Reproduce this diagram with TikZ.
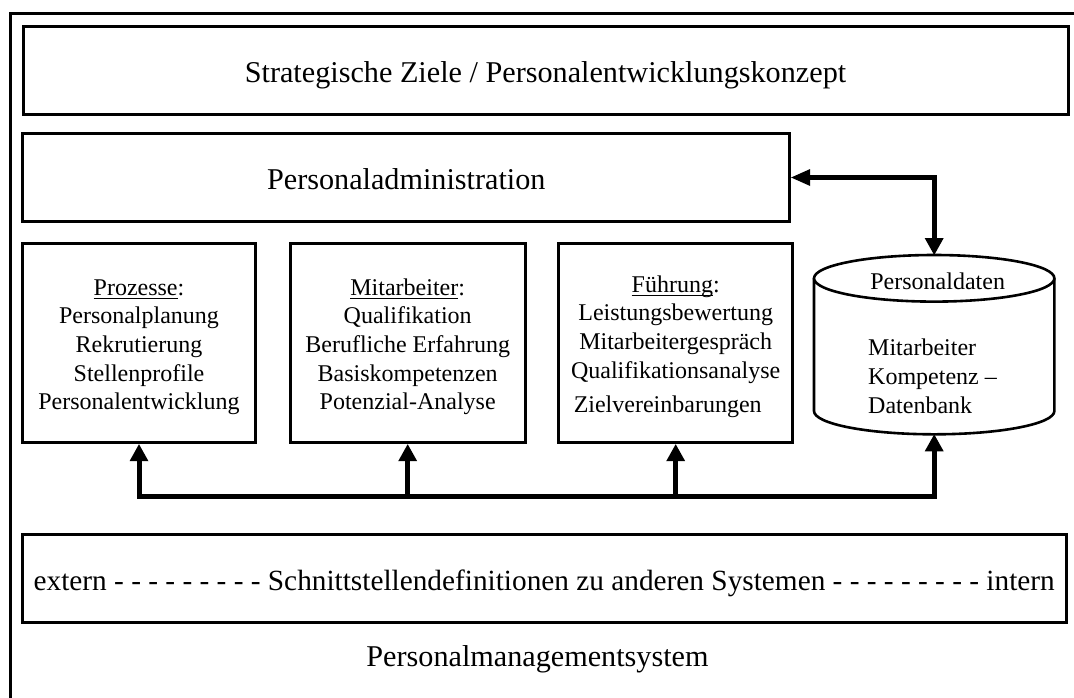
\documentclass[tikz,border=0pt]{standalone}
\usepackage{fontspec}
\setmainfont{Liberation Serif}
\usetikzlibrary{arrows.meta}
% underline a word with a thin rule a little below the baseline
\newcommand\ulword[1]{\setbox0\hbox{#1}\rlap{\rule[-3.6pt]{\wd0}{1.1pt}}\box0}
% invisible strut that lowers the first line of a text block
\newcommand\topstrut{\rule{0pt}{24pt}}
\begin{document}
\begin{tikzpicture}[x=1pt,y=-1pt,
  box/.style={draw, line width=3pt, inner sep=0pt, align=center},
  bigtext/.style={font=\fontsize{30.2}{36}\selectfont},
  longtext/.style={font=\fontsize{29.3}{35}\selectfont},
  boxtext/.style={font=\fontsize{24}{28.7}\selectfont},
  oneline/.style={text height=24pt, text depth=0pt},
  link/.style={line width=5pt},
  cylline/.style={line width=2.6pt},
  uphead/.style={-{Triangle[length=17pt,width=19pt,line width=0pt]}},
]
\fill[white] (0,0) rectangle (1074,697);
\clip (0,0) rectangle (1074,697);
\useasboundingbox (0,0) rectangle (1074,697);

% outer frame of the whole system
\node[draw, line width=2.8pt, anchor=north west, minimum width=1090pt,
      minimum height=710pt, inner sep=0pt] (system) at (8.7,11.7) {};
\node[bigtext, anchor=base] (systemname) at (537.5,666.7) {Personalmanagementsystem};

% layers
\node[box, bigtext, oneline, minimum width=1045pt, minimum height=87.6pt]
  (ziele) at (545.5,70.5) {Strategische Ziele / Personalentwicklungskonzept};
\node[box, bigtext, oneline, minimum width=766.7pt, minimum height=88.4pt]
  (verw) at (406.3,177.5) {Personaladministration};

\node[box, boxtext, minimum width=233pt, minimum height=199.4pt]
  (proz) at (139,343) {\topstrut\ulword{Prozesse}:\\Personalplanung\\Rekrutierung\\Stellenprofile\\Personalentwicklung};
\node[box, boxtext, minimum width=234.7pt, minimum height=199.4pt]
  (mita) at (407.7,343) {\topstrut\ulword{Mitarbeiter}:\\Qualifikation\\Berufliche Erfahrung\\Basiskompetenzen\\Potenzial-Analyse};
\node[box, boxtext, minimum width=234pt, minimum height=199.4pt]
  (fuehr) at (675.7,343) {\topstrut\ulword{Führung}:\\Leistungsbewertung\\Mitarbeitergespräch\\Qualifikationsanalyse\\[6pt]Zielvereinbarungen\hspace*{16pt}};

% database cylinder
\node[minimum width=240.4pt, minimum height=179.3pt, inner sep=0pt, outer sep=0pt]
  (db) at (934.2,344.7) {};
\coordinate (dbtop) at (934.2,278.3);
\coordinate (dbbot) at (934.2,411);
\fill[white] ([xshift=-120.2pt]dbtop) -- ([xshift=-120.2pt]dbbot)
  arc[start angle=180, end angle=360, x radius=120.2pt, y radius=23.3pt]
  -- ([xshift=120.2pt]dbtop) -- cycle;
\draw[cylline] ([xshift=-120.2pt]dbtop) -- ([xshift=-120.2pt]dbbot)
  arc[start angle=180, end angle=360, x radius=120.2pt, y radius=23.3pt]
  -- ([xshift=120.2pt]dbtop);
\draw[cylline, fill=white] (dbtop) ellipse[x radius=120.2pt, y radius=23.3pt];
\node[boxtext, anchor=base] (dbname) at (937.7,289) {Personaldaten};
\node[boxtext, align=left, anchor=south west, inner sep=0pt, text depth=0pt]
  (dbcontent) at (868,413.3) {Mitarbeiter\\Kompetenz --\\Datenbank};

% interfaces
\node[box, longtext, oneline, minimum width=1043.6pt, minimum height=88pt]
  (schnitt) at (544.2,578.3) {extern - - - - - - - - - Schnittstellendefinitionen zu anderen Systemen - - - - - - - - - intern};

% connectors
\coordinate (bus) at (0,496.5);
\draw[link, {Triangle[length=19pt,width=17pt,line width=0pt]}-{Triangle[length=17pt,width=19pt,line width=0pt]}]
  (verw.east) -- (verw.east -| db.north) -- (db.north);
\draw[link, {Triangle[length=17pt,width=19pt,line width=0pt]}-{Triangle[length=17pt,width=19pt,line width=0pt]}]
  (proz.south) -- (proz.south |- bus) -- (db.south |- bus) -- (db.south);
\draw[link, uphead] (mita.south |- bus) -- (mita.south);
\draw[link, uphead] (fuehr.south |- bus) -- (fuehr.south);
\end{tikzpicture}
\end{document}
